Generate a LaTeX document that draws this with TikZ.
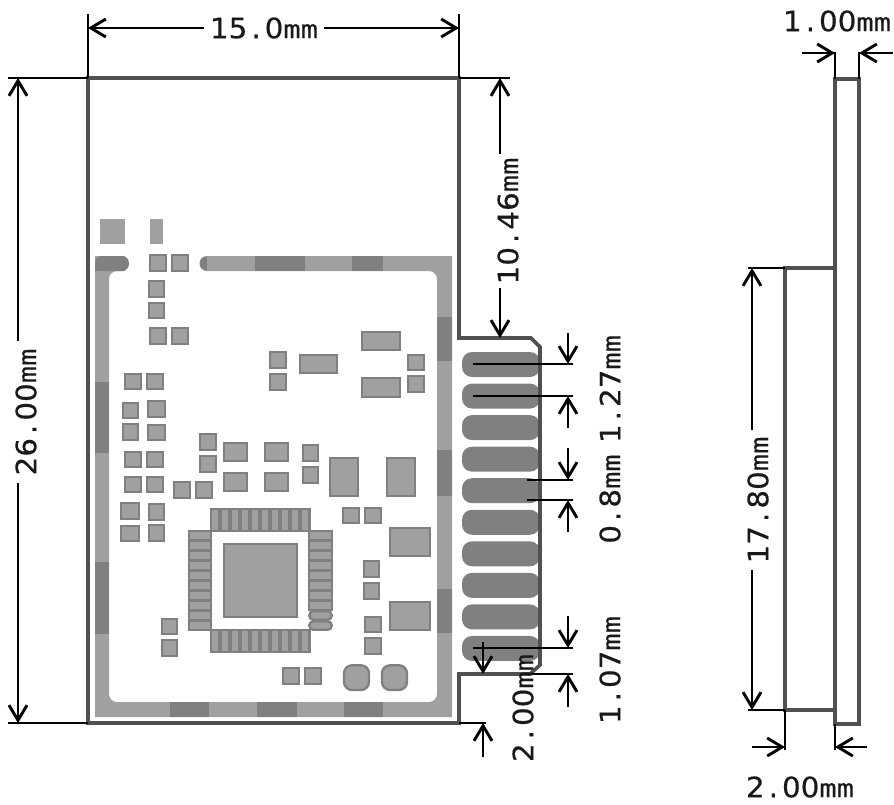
\documentclass[tikz,border=0pt]{standalone}
\usepackage{fontspec}
\usetikzlibrary{arrows.meta}
\setmainfont{DejaVu Sans Mono}
\newfontfamily\digitfont[FakeStretch=1.05,FakeBold=0.5]{DejaVu Sans}
\newfontfamily\mmfont[FakeStretch=1.15,FakeBold=0.3]{DejaVu Sans Mono}
\definecolor{padfill}{HTML}{A0A0A0}
\definecolor{paddark}{HTML}{808080}
\definecolor{boardline}{HTML}{505050}
\newcommand{\mmlabel}[2]{{\digitfont\fontsize{28}{28}\selectfont #1\kern4pt.\kern4pt#2}{\mmfont\fontsize{25}{25}\selectfont mm}}
\tikzset{
  smallpad/.style={fill=padfill,draw=paddark,line width=2.3pt},
  outline/.style={draw=boardline,line width=3.6pt,line join=miter},
  dimline/.style={draw=black,line width=2.9pt},
  dimarrow/.style={dimline,->,>={Straight Barb[length=15pt,width=18pt]}},
  dimtext/.style={inner sep=0pt,text=black!90}
}
\begin{document}
\begin{tikzpicture}[x=1pt,y=-1pt]
\useasboundingbox (0,0) rectangle (894,805);
% ground ring
\fill[padfill,even odd rule] (95,256) rectangle (452,717) [rounded corners=8pt] (109,271) -- (437,271) -- (437,702) -- (109,702) -- cycle;
\fill[white] (125,250) rectangle (207,273);
\foreach \xa/\xb in {255/305,352/383}
\fill[paddark] (\xa,256) rectangle (\xb,271);
\foreach \xa/\xb in {170/209,257/297,344/383}
\fill[paddark] (\xa,702) rectangle (\xb,717);
\foreach \ya/\yb in {382/453,562/634}
\fill[paddark] (95,\ya) rectangle (109,\yb);
\foreach \ya/\yb in {317/361,450/496,589/633}
\fill[paddark] (437,\ya) rectangle (452,\yb);
\fill[paddark,rounded corners=7pt] (95,256) rectangle (129,271);
\fill[paddark] (95,264) rectangle (109,271);
\fill[paddark] (207,263.5) circle (7.5);
\fill[padfill] (207,256) rectangle (215,271);
% plain pads
\fill[padfill] (100,219) rectangle (125,244);
\fill[padfill] (150,219) rectangle (163,244);
% small pads
\foreach \xa/\ya/\xb/\yb in {149.3/254.3/167.3/272.3,170.7/254.3/188.7/272.3,147.7/280/165.3/298,147.7/301.7/165.3/319.3,149.3/327.3/167.3/345.3,170.7/327.3/188.7/345.3,124.3/373/142.3/390.3,145.7/373/163.7/390.3,269.3/351.3/287.3/369.3,269.3/373/287.3/391,298.7/354.3/338/373.7,360.7/330.7/400.7/350.7,360.7/377.3/400.7/397.7,406.7/354.3/424.7/371.3,406.7/375.3/424.7/392.7,122/402/139/419.3,122/422.7/139/440.7,146.7/400.3/166.3/418.3,146.7/423.7/166.3/441,124.3/451/142.3/468.3,145.7/451/163.7/468.3,124.3/476/142.3/493.3,145.7/476/163.7/493.3,173.3/481.3/191.3/498.7,194.7/481.3/212.7/498.7,199/433/217/451,199/454.7/217/472.7,223.3/441.7/248/462.3,223.3/471.7/248/491.7,264.3/441.7/289/462.3,264.3/471.7/289/491.7,302/444.3/319/462.3,302/466/319/484,329.3/457.3/359.3/497.3,386/457.3/416/497.3,120/502/140/520,120/525.3/140/542.3,147.7/502.7/165.3/520.7,147.7/524/165.3/542.3,342.3/507/360.3/524.3,363.7/507/381.7/524.3,389/527/430.7/556.7,363.3/560.3/380/578.3,363.3/581.7/380/599.7,389/601/430.7/630.7,364/616/382/633.3,364/636.7/382/655,161.3/618/178.3/635,161.3/639.3/178.3/656.7,282.3/667/300.3/685,303.7/667/321.7/685,223.3/543.3/297.7/617.7}
\draw[smallpad] (\xa+1,\ya+1) rectangle (\xb-1,\yb-1);
\foreach \xa in {343,381}
\draw[smallpad,rounded corners=8pt] (\xa+1,665.3) rectangle (\xa+26,690);
% chip pins
\foreach \i in {0,...,9} {
\draw[smallpad] (211+10*\i,509) rectangle (219.5+10*\i,531.3);
\draw[smallpad] (211+10*\i,629.7) rectangle (219.5+10*\i,652);
\draw[smallpad] (189,531.3+10*\i) rectangle (211,539.8+10*\i);
}
\foreach \i in {0,...,7}
\draw[smallpad] (309.3,531.3+10*\i) rectangle (331.7,539.8+10*\i);
\foreach \i in {8,9}
\draw[smallpad,rounded corners=4pt] (309.3,531.3+10*\i) rectangle (331.7,539.8+10*\i);
% edge pads
\foreach \i in {0,...,9}
\fill[paddark,rounded corners=10pt] (462,352+31.55*\i) rectangle (540,377+31.55*\i);
% board
\draw[outline] (88,78) -- (459,78) -- (459,338) -- (531,338) -- (540,347) -- (540,665) -- (530,674) -- (459,674) -- (459,723) -- (88,723) -- cycle;
\draw[outline] (835,79) rectangle (859,724);
\draw[outline] (835,268) -- (785,268) -- (785,710) -- (835,710);
% 15.0mm
\draw[dimline] (88,14) -- (88,78);
\draw[dimline] (459,14) -- (459,78);
\node[dimtext] (widthlabel) at (264,28) {\mmlabel{15}{0}};
\draw[dimarrow] (widthlabel.west) ++(-6,0) -- (88,28);
\draw[dimarrow] (widthlabel.east) ++(6,0) -- (459,28);
% 26.00mm
\draw[dimline] (8,78) -- (88,78);
\draw[dimline] (8,723) -- (88,723);
\node[dimtext,rotate=90] (heightlabel) at (26,412) {\mmlabel{26}{00}};
\draw[dimarrow] (18,341) -- (18,78);
\draw[dimarrow] (18,483) -- (18,723);
% 10.46mm
\draw[dimline] (459,78) -- (510,78);
\node[dimtext,rotate=90] (toplabel) at (508,221) {\mmlabel{10}{46}};
\draw[dimarrow] (500,154) -- (500,78);
\draw[dimarrow] (500,288) -- (500,338);
% pitch and pad width
\draw[dimline] (473,364) -- (573,364);
\draw[dimline] (473,396) -- (573,396);
\draw[dimline] (527,480) -- (573,480);
\draw[dimline] (527,500) -- (573,500);
\draw[dimline] (473,648) -- (573,648);
\draw[dimline] (530,674) -- (573,674);
\draw[dimarrow] (568,333) -- (568,364);
\draw[dimarrow] (568,428) -- (568,396);
\draw[dimarrow] (568,448) -- (568,480);
\draw[dimarrow] (568,532) -- (568,500);
\draw[dimarrow] (568,616) -- (568,648);
\draw[dimarrow] (568,707) -- (568,674);
\node[dimtext,rotate=90] (pitchlabel) at (610,389) {\mmlabel{1}{27}};
\node[dimtext,rotate=90] (padlabel) at (610,499) {\mmlabel{0}{8}};
\node[dimtext,rotate=90] (endlabel) at (610,670) {\mmlabel{1}{07}};
% 2.00mm notch
\draw[dimline] (459,723) -- (486,723);
\draw[dimarrow] (483,642) -- (483,674);
\draw[dimarrow] (483,757) -- (483,723);
\node[dimtext,rotate=90] (notchlabel) at (523,708) {\mmlabel{2}{00}};
% side view
\draw[dimline] (835,52) -- (835,79);
\draw[dimline] (859,52) -- (859,79);
\draw[dimarrow] (802,53) -- (835,53);
\draw[dimarrow] (893,53) -- (859,53);
\node[dimtext] (thicklabel) at (837,21) {\mmlabel{1}{00}};
\draw[dimline] (748,268) -- (785,268);
\draw[dimline] (748,710) -- (785,710);
\node[dimtext,rotate=90] (sidelabel) at (758,500) {\mmlabel{17}{80}};
\draw[dimarrow] (752,430) -- (752,268);
\draw[dimarrow] (752,570) -- (752,710);
\draw[dimline] (785,710) -- (785,750);
\draw[dimline] (835,724) -- (835,750);
\draw[dimarrow] (752,747) -- (785,747);
\draw[dimarrow] (867,747) -- (835,747);
\node[dimtext] (shieldlabel) at (800,787) {\mmlabel{2}{00}};
\end{tikzpicture}
\end{document}
